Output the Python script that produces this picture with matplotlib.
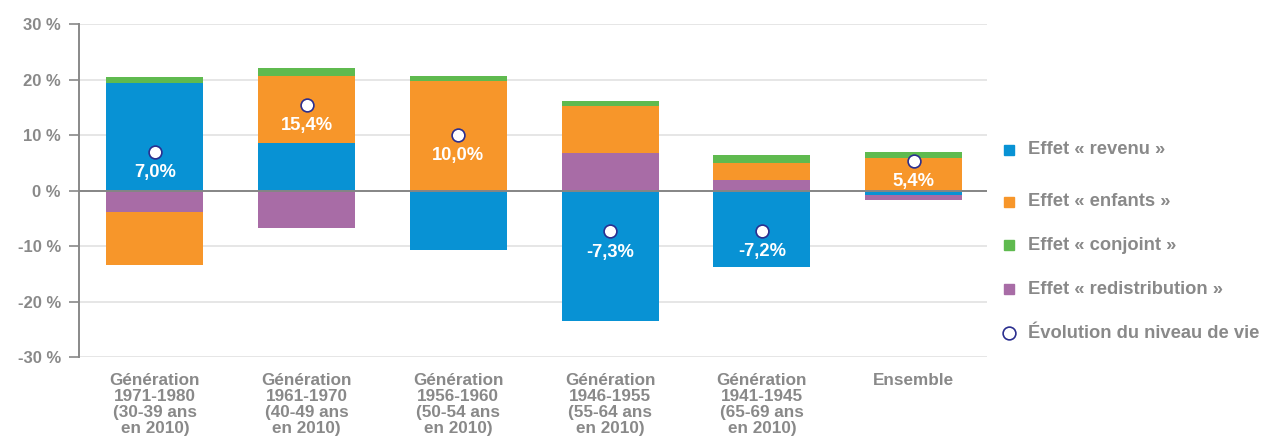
import matplotlib
matplotlib.use("Agg")
import matplotlib.pyplot as plt
import numpy as np
from matplotlib.lines import Line2D

categories = [
    "Génération\n1971-1980\n(30-39 ans\nen 2010)",
    "Génération\n1961-1970\n(40-49 ans\nen 2010)",
    "Génération\n1956-1960\n(50-54 ans\nen 2010)",
    "Génération\n1946-1955\n(55-64 ans\nen 2010)",
    "Génération\n1941-1945\n(65-69 ans\nen 2010)",
    "Ensemble",
]
revenu = [19.4, 8.6, -10.7, -23.5, -13.7, -0.8]
redistribution = [-3.9, -6.7, 0.0, 6.8, 2.0, -0.8]
enfants = [-9.4, 12.1, 19.7, 8.4, 2.9, 5.9]
conjoint = [1.0, 1.4, 1.0, 1.0, 1.6, 1.1]
evolution = [7.0, 15.4, 10.0, -7.3, -7.2, 5.4]
evolution_labels = ["7,0%", "15,4%", "10,0%", "-7,3%", "-7,2%", "5,4%"]
yticks = [-30, -20, -10, 0, 10, 20, 30]
ytick_labels = ["-30 %", "-20 %", "-10 %", "0 %", "10 %", "20 %", "30 %"]
legend_labels = ["Effet « revenu »", "Effet « enfants »", "Effet « conjoint »",
                 "Effet « redistribution »", "Évolution du niveau de vie"]

C_BLUE = "#0892D4"
C_ORANGE = "#F7962A"
C_GREEN = "#5FBA4F"
C_PURPLE = "#A86CA6"
C_NAVY = "#2B2F8F"
C_GRAY = "#898989"

plt.rcParams["font.family"] = ["Liberation Sans", "DejaVu Sans"]
plt.rcParams["font.weight"] = "bold"

fig = plt.figure(figsize=(12.64, 4.45), dpi=100)
ax = fig.add_axes([0.0625, 0.197, 0.7185, 0.749])

x = np.arange(len(categories))
width = 0.64
series = [(revenu, C_BLUE), (redistribution, C_PURPLE), (enfants, C_ORANGE), (conjoint, C_GREEN)]
pos_base = np.zeros(len(x))
neg_base = np.zeros(len(x))
for vals, col in series:
    v = np.array(vals, dtype=float)
    bottoms = np.where(v >= 0, pos_base, neg_base)
    ax.bar(x, v, width, bottom=bottoms, color=col, edgecolor="none", zorder=3)
    pos_base = pos_base + np.where(v >= 0, v, 0)
    neg_base = neg_base + np.where(v < 0, v, 0)

ax.plot(x, evolution, linestyle="none", marker="o", markersize=9.2,
        markerfacecolor="white", markeredgecolor=C_NAVY, markeredgewidth=1.2, zorder=5)
for xi, yi, lab in zip(x, evolution, evolution_labels):
    ax.annotate(lab, (xi, yi), xytext=(0, -15), textcoords="offset points",
                ha="center", va="center", color="white", fontsize=13.2,
                fontweight="bold", zorder=6)

ax.set_xlim(-0.5, 5.485)
ax.set_ylim(-30, 30)
ax.set_yticks(yticks)
ax.set_yticklabels(ytick_labels, fontsize=12, color=C_GRAY, fontweight="bold")
ax.set_xticks(x)
ax.set_xticklabels(categories, fontsize=12.3, color=C_GRAY, fontweight="bold",
                   linespacing=1.1, va="top")
ax.tick_params(axis="x", length=0, pad=11)
ax.tick_params(axis="y", length=7, width=1.2, color=C_GRAY, pad=6)

for yv in yticks:
    if yv != 0:
        ax.axhline(yv, color="#e4e4e4", linewidth=1.3, zorder=1)
ax.axhline(0, color="#858585", linewidth=1.4, zorder=4)

for s in ["top", "right", "bottom"]:
    ax.spines[s].set_visible(False)
ax.spines["left"].set_color(C_GRAY)
ax.spines["left"].set_linewidth(1.4)

# legend
W, H = 1264, 445
leg_y = [150, 201.5, 245.5, 289, 333]
leg_cols = [C_BLUE, C_ORANGE, C_GREEN, C_PURPLE, None]
for yy, col, lab in zip(leg_y, leg_cols, legend_labels):
    fy = 1 - yy / H
    if col is not None:
        fig.add_artist(Line2D([1008.5 / W], [fy], marker="s", markersize=6.6,
                              color=col, linestyle="none", transform=fig.transFigure))
    else:
        fig.add_artist(Line2D([1008.5 / W], [fy], marker="o", markersize=9.2,
                              markerfacecolor="white", markeredgecolor=C_NAVY,
                              markeredgewidth=1.2, linestyle="none",
                              transform=fig.transFigure))
    fig.text(1028 / W, fy, lab, ha="left", va="center", fontsize=13.2,
             color=C_GRAY, fontweight="bold")

fig.savefig("out.png", dpi=100)
